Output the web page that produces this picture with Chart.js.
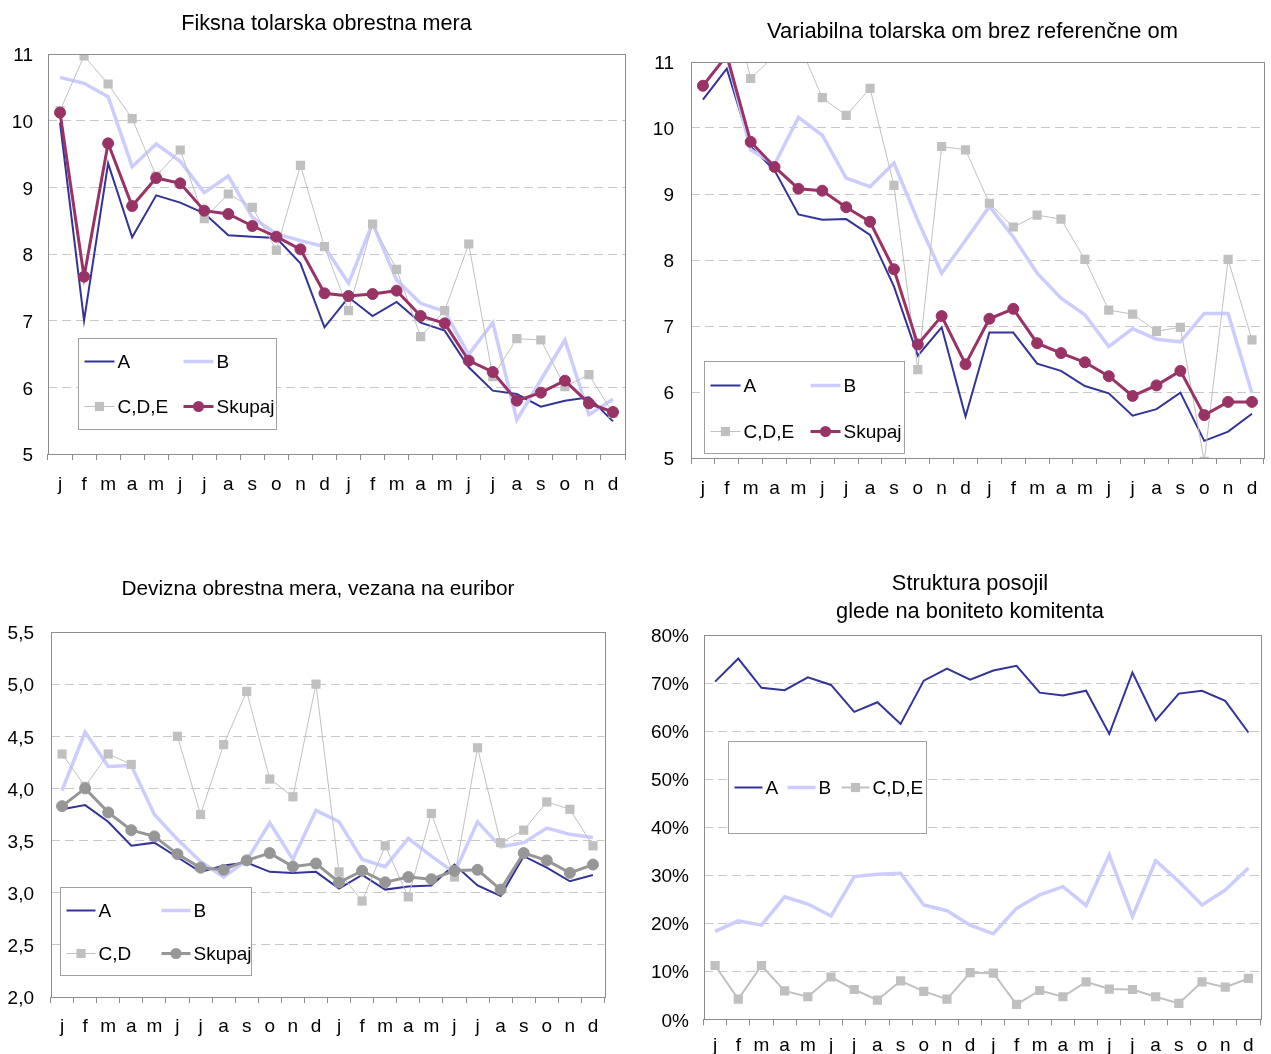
<!DOCTYPE html>
<html>
<head>
<meta charset="utf-8">
<script src="https://cdn.jsdelivr.net/npm/chart.js@4/dist/chart.umd.min.js"></script>
<style>
  html, body { margin: 0; padding: 0; background: #fff; }
  #wrap { position: relative; width: 1271px; height: 1054px; overflow: hidden; }
  #wrap canvas { position: absolute; }
</style>
</head>
<body>
<div id="wrap">
  <canvas id="fiksna" width="636" height="510" style="left:0;top:0"></canvas>
  <canvas id="variabilna" width="631" height="510" style="left:640px;top:0"></canvas>
  <canvas id="devizna" width="636" height="509" style="left:0;top:545px"></canvas>
  <canvas id="struktura" width="631" height="509" style="left:640px;top:545px"></canvas>
</div>
<script>
// month labels, two years
var months = ['j', 'f', 'm', 'a', 'm', 'j', 'j', 'a', 's', 'o', 'n', 'd',
              'j', 'f', 'm', 'a', 'm', 'j', 'j', 'a', 's', 'o', 'n', 'd'];

// Fiksna tolarska obrestna mera
var fiksnaA = [9.97, 7.0, 9.36, 8.25, 8.88, 8.77, 8.61, 8.28, 8.26, 8.24, 7.86, 6.9,
               7.35, 7.07, 7.28, 6.97, 6.85, 6.3, 5.95, 5.9, 5.71, 5.8, 5.85, 5.49];
var fiksnaB = [10.65, 10.56, 10.36, 9.31, 9.65, 9.39, 8.92, 9.17, 8.55, 8.3, 8.2, 8.11,
               7.56, 8.46, 7.61, 7.26, 7.14, 6.49, 6.97, 5.51, 6.11, 6.71, 5.59, 5.82];
var fiksnaCDE = [10.15, 10.97, 10.55, 10.03, 9.17, 9.56, 8.53, 8.9, 8.7, 8.06, 9.33, 8.11,
                 7.15, 8.45, 7.77, 6.76, 7.15, 8.15, 6.16, 6.73, 6.71, 6.01, 6.19, 5.61];
var fiksnaSkupaj = [10.12, 7.66, 9.66, 8.72, 9.14, 9.06, 8.65, 8.6, 8.42, 8.26, 8.07, 7.41,
                    7.37, 7.4, 7.45, 7.07, 6.96, 6.4, 6.23, 5.8, 5.92, 6.1, 5.76, 5.63];

// Variabilna tolarska om brez referenčne om
var variabA = [10.43, 10.9, 9.72, 9.36, 8.69, 8.61, 8.62, 8.38, 7.6, 6.55, 6.98, 5.63,
               6.9, 6.9, 6.43, 6.32, 6.09, 5.98, 5.64, 5.74, 5.99, 5.26, 5.4, 5.67];
var variabB = [11.5, 11.1, 9.67, 9.45, 10.16, 9.89, 9.24, 9.11, 9.47, 8.6, 7.8, 8.3,
               8.81, 8.35, 7.8, 7.42, 7.17, 6.69, 6.96, 6.8, 6.76, 7.19, 7.19, 5.98];
var variabCDE = [12.0, 12.25, 10.75, 11.1, 11.3, 10.46, 10.19, 10.6, 9.13, 6.34, 9.72, 9.67,
                 8.86, 8.5, 8.68, 8.62, 8.01, 7.24, 7.18, 6.92, 6.98, 4.95, 8.01, 6.79];
var variabSkupaj = [10.64, 11.1, 9.79, 9.41, 9.08, 9.05, 8.8, 8.58, 7.86, 6.72, 7.15, 6.42,
                    7.11, 7.26, 6.74, 6.59, 6.45, 6.24, 5.94, 6.1, 6.32, 5.65, 5.85, 5.85];

// Devizna obrestna mera, vezana na euribor
var deviznaA = [3.8, 3.84, 3.68, 3.45, 3.48, 3.34, 3.2, 3.26, 3.29, 3.2, 3.19, 3.2,
                3.04, 3.17, 3.03, 3.06, 3.07, 3.27, 3.07, 2.97, 3.35, 3.24, 3.11, 3.17];
var deviznaB = [3.98, 4.54, 4.21, 4.22, 3.75, 3.51, 3.3, 3.15, 3.31, 3.67, 3.32, 3.79,
                3.68, 3.32, 3.25, 3.52, 3.35, 3.19, 3.68, 3.44, 3.48, 3.62, 3.56, 3.53];
var deviznaCD = [4.33, 4.02, 4.33, 4.23, null, 4.5, 3.75, 4.42, 4.93, 4.09, 3.92, 5.0,
                 3.2, 2.92, 3.45, 2.96, 3.76, 3.15, 4.39, 3.48, 3.6, 3.87, 3.8, 3.45];
var deviznaSkupaj = [3.83, 4.0, 3.77, 3.6, 3.54, 3.37, 3.24, 3.22, 3.31, 3.38, 3.25, 3.28,
                     3.1, 3.21, 3.1, 3.15, 3.13, 3.21, 3.22, 3.03, 3.38, 3.31, 3.19, 3.27];

// Struktura posojil glede na boniteto komitenta (%)
var strukturaA = [70.3, 75.1, 69.0, 68.5, 71.2, 69.6, 64.0, 66.0, 61.5, 70.5, 73.0, 70.7,
                  72.6, 73.6, 68.0, 67.4, 68.4, 59.4, 72.2, 62.2, 67.8, 68.4, 66.3, 59.7];
var strukturaB = [18.3, 20.5, 19.6, 25.5, 24.0, 21.5, 29.7, 30.2, 30.4, 23.8, 22.6, 19.6,
                  17.8, 23.1, 25.9, 27.6, 23.7, 34.2, 21.4, 33.0, 28.7, 23.8, 26.9, 31.5];
var strukturaCDE = [11.2, 4.2, 11.2, 5.9, 4.7, 8.8, 6.2, 4.0, 8.0, 5.8, 4.2, 9.7,
                    9.6, 3.1, 6.0, 4.7, 7.8, 6.3, 6.2, 4.7, 3.3, 7.8, 6.7, 8.5];

var FONT = '"Liberation Sans", Arial, sans-serif';
var BLUE = '#333399', LILAC = '#ccccff', GREY = '#c0c0c0', PLUM = '#993366', DARKGREY = '#969696';

// title (centred over its own x), plot frame and the legend box inside the plot
var frameLegend = {
  id: 'frameLegend',
  afterDraw: function (chart, args, opts) {
    var ctx = chart.ctx, t = opts.title;
    ctx.save();
    ctx.fillStyle = '#000';
    ctx.font = t.size + 'px ' + FONT;
    ctx.textAlign = 'center';
    ctx.textBaseline = 'middle';
    t.lines.forEach(function (line, i) {
      ctx.fillText(line, t.x, t.y + i * t.gap);
    });
    ctx.restore();
  },
  afterDatasetsDraw: function (chart, args, opts) {
    var a = chart.chartArea, ctx = chart.ctx, lg = opts.legend;
    ctx.save();
    ctx.strokeStyle = '#8c8c8c';
    ctx.lineWidth = 1;
    ctx.strokeRect(Math.round(a.left) + 0.5, Math.round(a.top) + 0.5,
      Math.round(a.right - a.left), Math.round(a.bottom - a.top));

    var bx = Math.round(a.left + lg.x) + 0.5, by = Math.round(a.top + lg.y) + 0.5;
    ctx.fillStyle = '#fff';
    ctx.fillRect(bx, by, lg.w, lg.h);
    ctx.strokeStyle = '#a0a0a0';
    ctx.strokeRect(bx, by, lg.w, lg.h);

    ctx.font = '19px ' + FONT;
    ctx.textBaseline = 'middle';
    chart.data.datasets.forEach(function (ds, i) {
      var x = bx + lg.items[i][0], y = by + lg.items[i][1];
      var mid = x + lg.sample / 2;
      ctx.strokeStyle = ds.borderColor;
      ctx.lineWidth = ds.borderWidth;
      ctx.beginPath();
      ctx.moveTo(x, y);
      ctx.lineTo(x + lg.sample, y);
      ctx.stroke();
      if (ds.pointRadius > 0) {
        ctx.fillStyle = ds.pointBackgroundColor;
        if (ds.pointStyle === 'rect') {
          var s = ds.pointRadius * Math.SQRT1_2;
          ctx.fillRect(mid - s, y - s, 2 * s, 2 * s);
        } else {
          ctx.beginPath();
          ctx.arc(mid, y, ds.pointRadius, 0, Math.PI * 2);
          ctx.fill();
        }
      }
      ctx.fillStyle = '#000';
      ctx.fillText(ds.label, x + lg.sample + 3, y + 1);
    });
    ctx.restore();
  }
};

function lineSet (label, data, color, width, order) {
  return {
    label: label, data: data, borderColor: color, backgroundColor: color,
    borderWidth: width, pointRadius: 0, pointHoverRadius: 0, tension: 0, order: order
  };
}

function squareSet (label, data, width, order) {
  var ds = lineSet(label, data, GREY, width, order);
  ds.pointStyle = 'rect';
  ds.pointRadius = 6.5;
  ds.pointBackgroundColor = GREY;
  ds.pointBorderWidth = 0;
  return ds;
}

function circleSet (label, data, color, order) {
  var ds = lineSet(label, data, color, 3, order);
  ds.pointStyle = 'circle';
  ds.pointRadius = 5.5;
  ds.pointBackgroundColor = color;
  ds.pointBorderColor = color;
  ds.pointBorderWidth = 1;
  return ds;
}

function makeChart (id, cfg) {
  return new Chart(document.getElementById(id), {
    type: 'line',
    data: { labels: months, datasets: cfg.datasets },
    plugins: [frameLegend],
    options: {
      responsive: false, animation: false, devicePixelRatio: 1,
      layout: { padding: { left: 0, right: cfg.padRight, top: cfg.padTop, bottom: 0 } },
      plugins: {
        legend: { display: false },
        title: { display: false },
        tooltip: { enabled: false },
        frameLegend: { title: cfg.title, legend: cfg.legend }
      },
      scales: {
        x: {
          offset: true,
          grid: { display: true, drawOnChartArea: false, drawTicks: true, tickLength: 6,
                  offset: true, tickColor: '#8c8c8c' },
          border: { display: false },
          ticks: { color: '#000', font: { family: FONT, size: 19 }, padding: cfg.xPad,
                   maxRotation: 0, autoSkip: false },
          afterFit: function (s) { s.height = cfg.xHeight; }
        },
        y: {
          min: cfg.yMin, max: cfg.yMax,
          grid: { color: '#c8c8c8', lineWidth: 1, drawTicks: false },
          border: { display: false, dash: [9, 5] },
          ticks: { stepSize: cfg.step, color: '#000', font: { family: FONT, size: 19 },
                   padding: cfg.yPad, labelOffset: 2, callback: cfg.fmt },
          afterFit: function (s) { s.width = cfg.yWidth; }
        }
      }
    }
  });
}

makeChart('fiksna', {
  title: { lines: ['Fiksna tolarska obrestna mera'], size: 21.6, x: 326.5, y: 24, gap: 0 },
  padTop: 54, padRight: 11, yWidth: 48, xHeight: 56, xPad: 13.6, yPad: 15,
  yMin: 5, yMax: 11, step: 1, fmt: function (v) { return v; },
  datasets: [
    lineSet('A', fiksnaA, BLUE, 2, 4),
    lineSet('B', fiksnaB, LILAC, 3.5, 3),
    squareSet('C,D,E', fiksnaCDE, 1, 2),
    circleSet('Skupaj', fiksnaSkupaj, PLUM, 1)
  ],
  legend: { x: 30, y: 284, w: 198, h: 91, sample: 30,
            items: [[6, 23], [105, 23], [6, 68], [105, 68]] }
});

makeChart('variabilna', {
  title: { lines: ['Variabilna tolarska om brez referenčne om'], size: 21.9, x: 332.5, y: 32, gap: 0 },
  padTop: 62, padRight: 0, yWidth: 51, xHeight: 52, xPad: 13.6, yPad: 17,
  yMin: 5, yMax: 11, step: 1, fmt: function (v) { return v; },
  datasets: [
    lineSet('A', variabA, BLUE, 2, 4),
    lineSet('B', variabB, LILAC, 3.5, 3),
    squareSet('C,D,E', variabCDE, 1, 2),
    circleSet('Skupaj', variabSkupaj, PLUM, 1)
  ],
  legend: { x: 13, y: 299, w: 200, h: 92, sample: 30,
            items: [[6, 24], [106, 24], [6, 70], [106, 70]] }
});

makeChart('devizna', {
  title: { lines: ['Devizna obrestna mera, vezana na euribor'], size: 20.8, x: 318, y: 44.5, gap: 0 },
  padTop: 87, padRight: 31.5, yWidth: 50.5, xHeight: 57, xPad: 12.3, yPad: 16.5,
  yMin: 2, yMax: 5.5, step: 0.5, fmt: function (v) { return v.toFixed(1).replace('.', ','); },
  datasets: [
    lineSet('A', deviznaA, BLUE, 2, 4),
    lineSet('B', deviznaB, LILAC, 3.5, 3),
    squareSet('C,D', deviznaCD, 1, 2),
    circleSet('Skupaj', deviznaSkupaj, DARKGREY, 1)
  ],
  legend: { x: 9.5, y: 255, w: 191, h: 88, sample: 29,
            items: [[6, 23], [101, 23], [6, 66], [101, 66]] }
});

makeChart('struktura', {
  title: { lines: ['Struktura posojil', 'glede na boniteto komitenta'], size: 21.8, x: 330, y: 39, gap: 28 },
  padTop: 90, padRight: 11, yWidth: 63.5, xHeight: 34.7, xPad: 9.3, yPad: 14.5,
  yMin: 0, yMax: 80, step: 10, fmt: function (v) { return v + '%'; },
  datasets: [
    lineSet('A', strukturaA, BLUE, 2, 3),
    lineSet('B', strukturaB, LILAC, 3.5, 2),
    squareSet('C,D,E', strukturaCDE, 2, 1)
  ],
  legend: { x: 24.5, y: 106, w: 198, h: 92, sample: 28,
            items: [[6, 46], [59, 46], [113, 46]] }
});
</script>
</body>
</html>
